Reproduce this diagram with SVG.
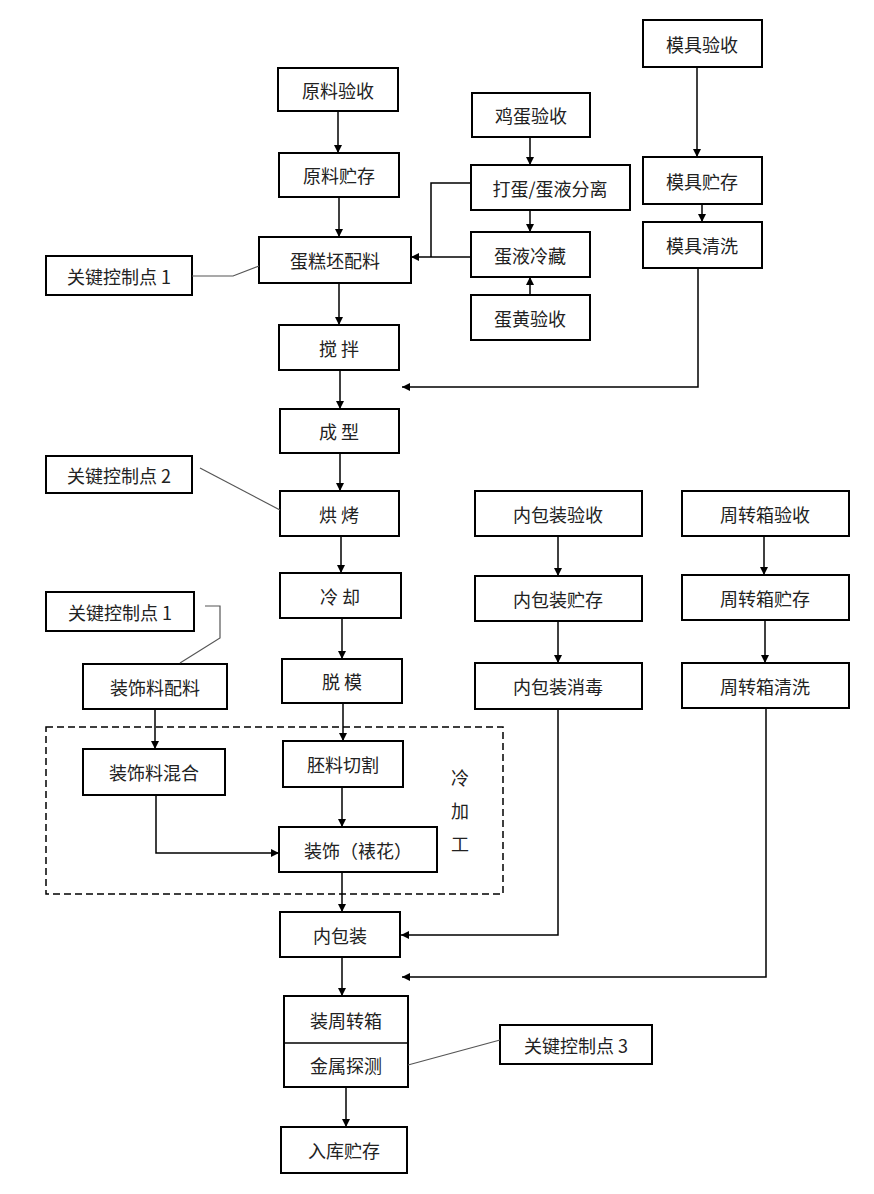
<svg xmlns="http://www.w3.org/2000/svg" width="874" height="1194" viewBox="0 0 874 1194">
<style>
rect{fill:#fff;stroke:#000;stroke-width:2}
text{font-family:"Noto Sans CJK SC","Liberation Serif",serif;font-size:18px;text-anchor:middle;dominant-baseline:central;fill:#222}
.c path{fill:none;stroke:#000;stroke-width:1.5}
.t path{fill:none;stroke:#555;stroke-width:1.2}
</style>
<defs><marker id="a" viewBox="0 0 10 10" refX="10" refY="5" markerWidth="8" markerHeight="8" markerUnits="userSpaceOnUse" orient="auto"><path d="M0,0L10,5L0,10z" fill="#000"/></marker></defs>
<rect x="0" y="0" width="874" height="1194" style="stroke:none"/>
<g id="n1"><rect x="278" y="68" width="120" height="43"/><text x="338" y="90">原料验收</text></g>
<g id="n2"><rect x="279" y="153" width="120" height="44"/><text x="339" y="175">原料贮存</text></g>
<g id="n3"><rect x="259" y="237" width="152" height="46"/><text x="335" y="260">蛋糕坯配料</text></g>
<g id="n4"><rect x="279" y="325" width="120" height="45"/><text x="339" y="348">搅  拌</text></g>
<g id="n5"><rect x="280" y="409" width="119" height="44"/><text x="339" y="431">成  型</text></g>
<g id="n6"><rect x="280" y="491" width="119" height="45"/><text x="339" y="514">烘  烤</text></g>
<g id="n7"><rect x="280" y="573" width="121" height="45"/><text x="340" y="596">冷  却</text></g>
<g id="n8"><rect x="282" y="659" width="120" height="44"/><text x="342" y="681">脱  模</text></g>
<g id="n9"><rect x="283" y="741" width="120" height="46"/><text x="343" y="764">胚料切割</text></g>
<g id="n10"><rect x="279" y="827" width="158" height="45"/><text x="358" y="850">装饰（裱花）</text></g>
<g id="n11"><rect x="280" y="912" width="120" height="45"/><text x="340" y="935">内包装</text></g>
<g id="n12"><rect x="284" y="996" width="124" height="91"/><path d="M284,1043H408" stroke="#000" stroke-width="1.5"/><text x="346" y="1020">装周转箱</text><text x="346" y="1065">金属探测</text></g>
<g id="n13"><rect x="281" y="1127" width="126" height="46"/><text x="344" y="1150">入库贮存</text></g>
<g id="n14"><rect x="472" y="93" width="118" height="44"/><text x="531" y="115">鸡蛋验收</text></g>
<g id="n15"><rect x="471" y="165" width="159" height="45"/><text x="550" y="188">打蛋/蛋液分离</text></g>
<g id="n16"><rect x="471" y="232" width="119" height="45"/><text x="530" y="255">蛋液冷藏</text></g>
<g id="n17"><rect x="471" y="295" width="119" height="45"/><text x="530" y="318">蛋黄验收</text></g>
<g id="n18"><rect x="643" y="20" width="119" height="47"/><text x="702" y="44">模具验收</text></g>
<g id="n19"><rect x="643" y="157" width="119" height="47"/><text x="702" y="181">模具贮存</text></g>
<g id="n20"><rect x="643" y="222" width="119" height="46"/><text x="702" y="245">模具清洗</text></g>
<g id="n21"><rect x="475" y="491" width="167" height="45"/><text x="558" y="514">内包装验收</text></g>
<g id="n22"><rect x="475" y="576" width="167" height="45"/><text x="558" y="599">内包装贮存</text></g>
<g id="n23"><rect x="475" y="663" width="167" height="46"/><text x="558" y="686">内包装消毒</text></g>
<g id="n24"><rect x="682" y="491" width="167" height="45"/><text x="765" y="514">周转箱验收</text></g>
<g id="n25"><rect x="682" y="575" width="167" height="45"/><text x="765" y="598">周转箱贮存</text></g>
<g id="n26"><rect x="682" y="663" width="167" height="45"/><text x="765" y="686">周转箱清洗</text></g>
<g id="n27"><rect x="83" y="664" width="144" height="45"/><text x="155" y="687">装饰料配料</text></g>
<g id="n28"><rect x="83" y="749" width="142" height="46"/><text x="154" y="772">装饰料混合</text></g>
<g id="k1"><rect x="46" y="256" width="146" height="39"/><text x="119" y="276">关键控制点 1</text></g>
<g id="k2"><rect x="46" y="456" width="146" height="37"/><text x="119" y="475">关键控制点 2</text></g>
<g id="k3"><rect x="46" y="592" width="148" height="39"/><text x="120" y="612">关键控制点 1</text></g>
<g id="k4"><rect x="500" y="1025" width="152" height="39"/><text x="576" y="1045">关键控制点 3</text></g>
<g id="cold"><rect x="46" y="727" width="457" height="167" style="fill:none;stroke-dasharray:7,4;stroke-width:1.5"/><text x="460" y="777">冷</text><text x="460" y="810">加</text><text x="460" y="843">工</text></g>
<g class="c">
<path d="M338,111V153" marker-end="url(#a)"/>
<path d="M339,197V237" marker-end="url(#a)"/>
<path d="M339,283V325" marker-end="url(#a)"/>
<path d="M340,370V409" marker-end="url(#a)"/>
<path d="M340,453V491" marker-end="url(#a)"/>
<path d="M341,536V573" marker-end="url(#a)"/>
<path d="M342,618V659" marker-end="url(#a)"/>
<path d="M343,703V741" marker-end="url(#a)"/>
<path d="M342,787V827" marker-end="url(#a)"/>
<path d="M342,872V912" marker-end="url(#a)"/>
<path d="M342,957V996" marker-end="url(#a)"/>
<path d="M346,1087V1127" marker-end="url(#a)"/>
<path d="M530,137V165" marker-end="url(#a)"/>
<path d="M530,210V232" marker-end="url(#a)"/>
<path d="M530,295V277" marker-end="url(#a)"/>
<path d="M471,257H411" marker-end="url(#a)"/>
<path d="M471,183H431V257"/>
<path d="M697,67V157" marker-end="url(#a)"/>
<path d="M702,204V222" marker-end="url(#a)"/>
<path d="M698,268V387H402" marker-end="url(#a)"/>
<path d="M558,536V576" marker-end="url(#a)"/>
<path d="M558,621V663" marker-end="url(#a)"/>
<path d="M558,709V935H401" marker-end="url(#a)"/>
<path d="M764,536V575" marker-end="url(#a)"/>
<path d="M765,620V663" marker-end="url(#a)"/>
<path d="M766,708V977H402" marker-end="url(#a)"/>
<path d="M155,709V749" marker-end="url(#a)"/>
<path d="M156,795V853H279" marker-end="url(#a)"/>
</g>
<g class="t">
<path d="M192,276H233L259,266"/>
<path d="M200,468L280,510"/>
<path d="M205,606H220V638L180,663"/>
<path d="M408,1065L500,1040"/>
</g>
</svg>
